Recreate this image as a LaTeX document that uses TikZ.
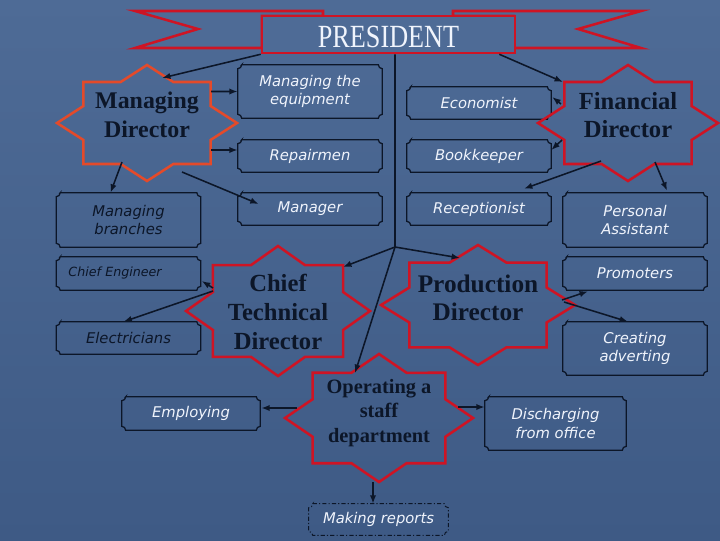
\documentclass[tikz,border=0pt]{standalone}
\usepackage{amsmath}
\usepackage{fontspec}
\usepackage{tikz}
\usetikzlibrary{arrows.meta}
\usetikzlibrary{calc}
\setmainfont{Liberation Serif}
\newfontfamily\boxfont{DejaVu Sans}

\definecolor{slide}{RGB}{78,107,150}
\definecolor{slidedark}{RGB}{62,90,133}
\definecolor{ribbon}{RGB}{206,20,36}
\definecolor{mdred}{RGB}{228,74,42}
\definecolor{ink}{RGB}{12,22,40}
\definecolor{paper}{RGB}{240,244,252}

\tikzset{
  post/.style={font=\boxfont\itshape\fontsize{10.5}{13}\selectfont, text=paper, align=center, inner sep=0pt},
  darkpost/.style={post, text=ink},
  chief/.style={font=\bfseries\fontsize{17.5}{20.5}\selectfont, text=ink, align=center, inner sep=0pt},
  plaque/.style={draw=ink, line width=0.9pt},
  ribbonline/.style={draw=ribbon, line width=1.8pt},
  starred/.style={draw=ribbon, line width=1.8pt, line join=miter},
  trunk/.style={draw=ink, line width=1.1pt},
  link/.style={trunk, -{Latex[length=6pt,width=4.5pt]}},
}

\newcommand\plaqueline[2][]{%
  \draw[plaque,#1] ($(#2.north west)+(4,0)$) -- ($(#2.north east)+(-4,0)$)
    arc[start angle=180, end angle=270, radius=0.1cm] -- ($(#2.south east)+(0,-4)$)
    arc[start angle=90, end angle=180, radius=0.1cm] -- ($(#2.south west)+(4,0)$)
    arc[start angle=0, end angle=90, radius=0.1cm] -- ($(#2.north west)+(0,4)$)
    arc[start angle=270, end angle=360, radius=0.1cm] -- cycle;}

\newcommand\drawstar[5][ribbon]{%
  \draw[starred, draw=#1] ($(#2)+(#4,#3)$)
    \foreach \k/\r in {1/0.765,2/1,3/0.765,4/1,5/0.765,6/1,7/0.765,8/1,9/0.765,10/1,11/0.765,12/1,13/0.765,14/1,15/0.765}
    { -- ($(#2)+({#4*\r*cos(22.5*\k)},{#3+#5*\r*sin(22.5*\k)})$) } -- cycle;}

\begin{document}
\begin{tikzpicture}[x=0.025cm, y=-0.025cm]
    \useasboundingbox (0,0) rectangle (720,540);
    \fill[top color=slide, bottom color=slidedark] (0,0) rectangle (720,540);

    \draw[ribbonline, fill=slide] (135,11) -- (323,11) -- (323,16) -- (262,16) -- (262,48) -- (135,48) -- (198,29) -- cycle;
    \draw[ribbonline, fill=slide] (641,11) -- (453,11) -- (453,16) -- (514,16) -- (514,48) -- (641,48) -- (578,29) -- cycle;
    \node[ribbonline, fill=slide, minimum width=6.325cm, minimum height=0.925cm, text=paper,
          text height=19pt, text depth=0pt,
          font=\fontsize{23}{23}\selectfont] (pres) at (388.5,34.5) {\scalebox{0.81}[1]{PRESIDENT}};
    \coordinate (hub) at (395,247);

    \node[post, minimum width=3.6cm, minimum height=1.325cm] (equip) at (310,91.5) {Managing the\\equipment};
    \node[post, minimum width=3.6cm, minimum height=0.8cm] (rep) at (310,156) {Repairmen};
    \node[post, minimum width=3.6cm, minimum height=0.8cm] (mgr) at (310,209) {Manager};
    \node[post, minimum width=3.6cm, minimum height=0.8cm] (econ) at (479,103) {Economist};
    \node[post, minimum width=3.6cm, minimum height=0.8cm] (book) at (479,156) {Bookkeeper};
    \node[post, minimum width=3.6cm, minimum height=0.8cm] (recp) at (479,209) {Receptionist};
    \node[post, minimum width=3.6cm, minimum height=1.35cm] (pa) at (635,220) {Personal\\Assistant};
    \node[post, minimum width=3.6cm, minimum height=0.825cm] (prom) at (635,273.5) {Promoters};
    \node[post, minimum width=3.6cm, minimum height=1.325cm] (creat) at (635,348.5) {Creating\\adverting};
    \node[darkpost, minimum width=3.6cm, minimum height=1.35cm] (branch) at (128.5,220) {Managing\\branches};
    \node[darkpost, font=\boxfont\itshape\fontsize{9}{11}\selectfont, text width=3cm, align=left,
          minimum width=3.6cm, minimum height=0.825cm] (ce) at (128.5,273.5) {Chief Engineer};
    \node[darkpost, minimum width=3.6cm, minimum height=0.8cm] (elec) at (128.5,338) {Electricians};
    \node[post, minimum width=3.45cm, minimum height=0.825cm] (emp) at (191,413.5) {Employing};
    \node[post, minimum width=3.525cm, minimum height=1.325cm] (dis) at (555.5,423.5) {Discharging\\from office};
    \node[post, minimum width=3.475cm, minimum height=0.775cm] (mr) at (378.5,519.5) {Making reports};

    \foreach \n in {equip,rep,mgr,econ,book,recp,pa,prom,creat,branch,ce,elec,emp,dis}
        \plaqueline{\n};
    \plaqueline[dash pattern=on 3pt off 1.5pt on 0.8pt off 1.5pt, line width=0.7pt]{mr}

    \node[chief, font=\bfseries\fontsize{17}{20.5}\selectfont] (md) at (147,115) {Managing\\Director};
    \node[chief] (fd) at (628,115) {Financial\\Director};
    \node[chief] (ctd) at (278,312) {Chief\\Technical\\Director};
    \node[chief, font=\bfseries\fontsize{18}{20}\selectfont] (pd) at (478,298) {Production\\Director};
    \node[chief, font=\bfseries\fontsize{14.5}{17.4}\selectfont] (op) at (379,413) {Operating a\\staff\\department};
    \drawstar[mdred]{md}{8}{90}{58}
    \drawstar{fd}{8}{90}{58}
    \drawstar{ctd}{-1}{92}{65}
    \drawstar{pd}{7}{97}{60}
    \drawstar{op}{5}{94}{64}

    \draw[link] (pres.south west) -- ($(md)+(15,-37)$);
    \draw[link] ($(pres.south east)+(-17,0)$) -- ($(fd)+(-65,-33)$);
    \draw[trunk] ($(pres.south)+(6.5,0)$) -- (hub);
    \draw[link] (hub) -- ($(ctd)+(65,-45)$);
    \draw[link] (hub) -- ($(pd)+(-18,-40)$);
    \draw[link] (hub) -- ($(op)+(-24,-40)$);

    \draw[link] ($(md)+(64,-23.5)$) -- (equip.west);
    \draw[link] ($(md)+(64,35)$) -- ($(rep.west)+(0,-6)$);
    \draw[link] ($(md)+(-25,47)$) -- ($(branch.north)+(-18,0)$);
    \draw[link] ($(md)+(35,57)$) -- ($(mgr.west)+(21,-5)$);

    \draw[link] ($(fd)+(-67,-11)$) -- ($(econ.east)+(1,-6)$);
    \draw[link] ($(fd)+(-66,25)$) -- ($(book.east)+(0,-6)$);
    \draw[link] ($(fd)+(-27,46)$) -- ($(recp.north)+(45,-4)$);
    \draw[link] ($(fd)+(27,47)$) -- ($(pa.north)+(32,-2)$);

    \draw[link] ($(ctd)+(-65,-24)$) -- ($(ce.east)+(1,7.5)$);
    \draw[link] ($(ctd)+(-65,-21)$) -- ($(elec.north)+(-5,0)$);

    \draw[link] ($(pd)+(84,2)$) -- ($(prom.south)+(-47,1)$);
    \draw[link] ($(pd)+(86,4)$) -- ($(creat.north)+(-7,0)$);

    \draw[link] ($(op)+(-82,-5)$) -- ($(emp.east)+(1,-5.5)$);
    \draw[link] ($(op)+(79,-6)$) -- ($(dis.west)+(0,-16.5)$);
    \draw[link] ($(op)+(-6,69)$) -- ($(mr.north)+(-5.5,0)$);
\end{tikzpicture}
\end{document}
